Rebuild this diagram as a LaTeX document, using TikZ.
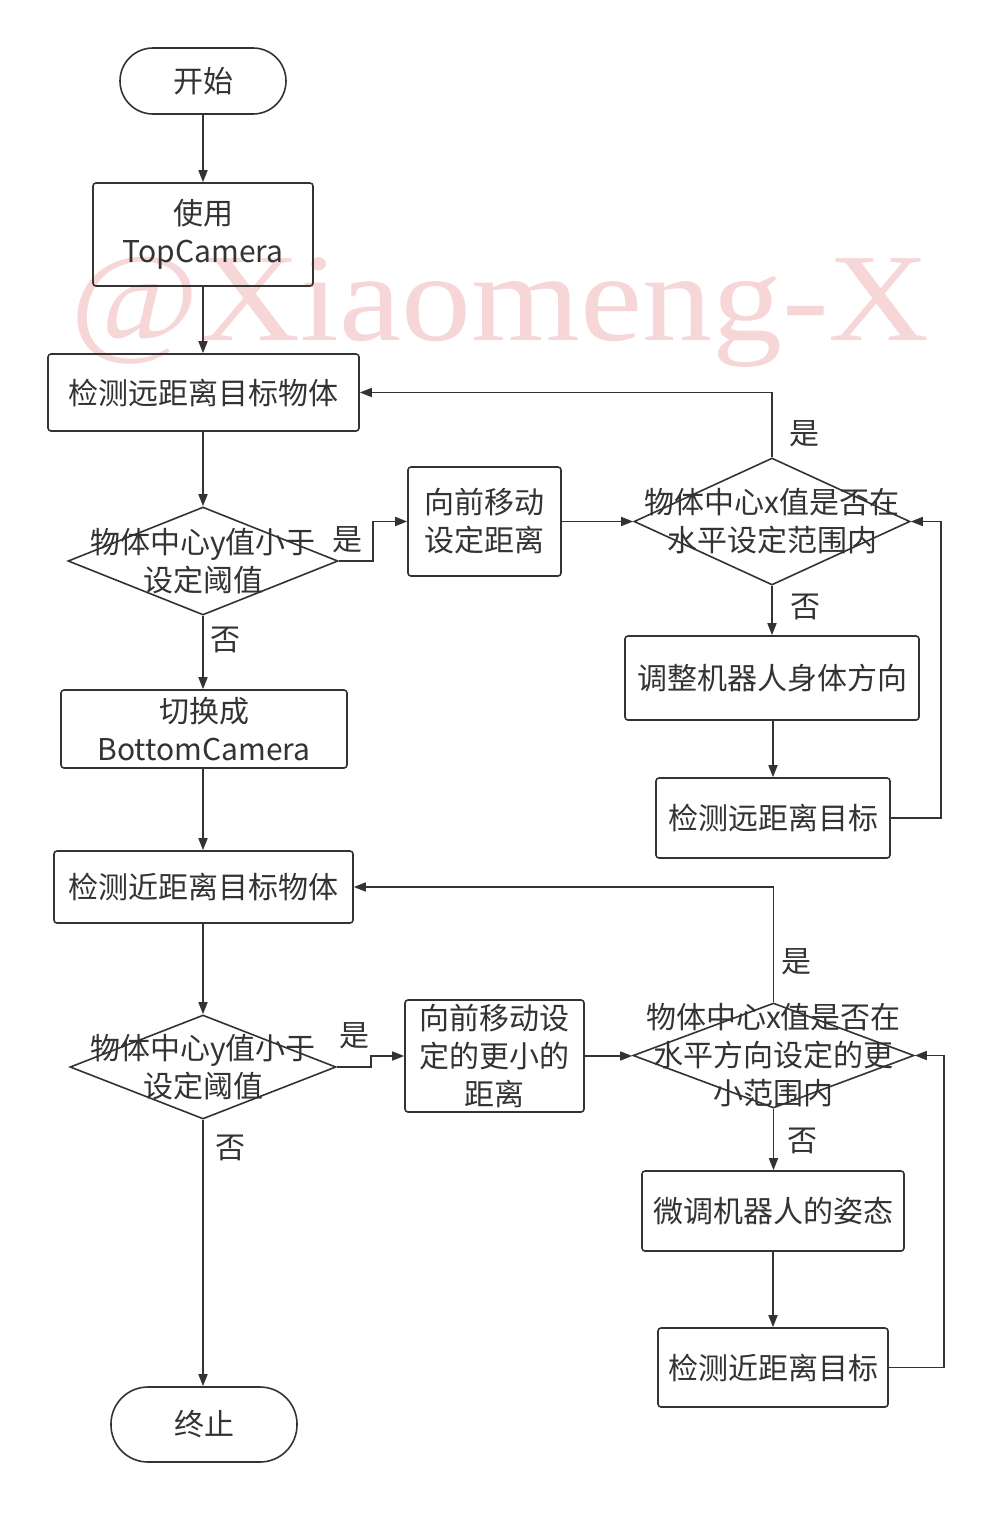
\documentclass[tikz,border=0pt]{standalone}
\usepackage{fontspec}
\setmainfont{Noto Sans CJK SC}
\newfontfamily\markfont{Liberation Serif}
\usetikzlibrary{shapes.geometric,arrows.meta}
\definecolor{ink}{HTML}{333333}
\definecolor{wmark}{HTML}{F6D6D6}

\tikzset{
  base/.style={draw=ink, line width=1.6pt, text=ink, align=center, inner sep=0pt},
  proc/.style={base, rounded corners=3pt},
  term/.style={base, rounded corners=33pt},
  cond/.style={base, diamond},
  lbl/.style={text=ink, inner sep=0pt},
  arr/.style={draw=ink, line width=1.6pt, -{Triangle[length=12pt,width=9pt]}},
  wire/.style={draw=ink, line width=1.6pt},
}

\begin{document}
\begin{tikzpicture}[x=1pt, y=-1pt, font=\fontsize{30}{38}\selectfont]
\fill[white] (0,0) rectangle (1006,1524);
\useasboundingbox (0,0) rectangle (1006,1524);

% author mark
\node[anchor=base, text=wmark, inner sep=0pt, font=\markfont\fontsize{125}{125}\selectfont]
  (wm) at (500,340) {\scalebox{1.12}[1]{@Xiaomeng-X}};

% ---- upper stage: far-range search ----
\node[term, minimum width=166, minimum height=66] (start) at (203,81) {开始};
\node[proc, minimum width=220, minimum height=103] (cam) at (203,234.5) {使用\\TopCamera};
\node[proc, minimum width=311, minimum height=77] (far) at (203.5,392.5) {检测远距离目标物体};
\node[cond, minimum width=270, minimum height=108] (d1) at (203,561) {};
\node[lbl, align=center] at (d1) {物体中心y值小于\\设定阈值};
\node[proc, minimum width=153, minimum height=109] (fwd1) at (484.5,521.5) {向前移动\\设定距离};
\node[cond, minimum width=276, minimum height=127] (d2) at (772,521.5) {};
\node[lbl, align=center] at (d2) {物体中心x值是否在\\水平设定范围内};
\node[proc, minimum width=294, minimum height=84] (adj) at (772,678) {调整机器人身体方向};
\node[proc, minimum width=234, minimum height=80] (chk1) at (773,818) {检测远距离目标};

% ---- lower stage: near-range search ----
\node[proc, minimum width=286, minimum height=78] (sw) at (204,729) {切换成\\BottomCamera};
\node[proc, minimum width=299, minimum height=72] (near) at (203.5,887) {检测近距离目标物体};
\node[cond, minimum width=266, minimum height=104] (d3) at (203,1067) {};
\node[lbl, align=center] at (d3) {物体中心y值小于\\设定阈值};
\node[proc, minimum width=179, minimum height=112] (fwd2) at (494.5,1056) {向前移动设\\定的更小的\\距离};
\node[cond, minimum width=281, minimum height=105] (d4) at (773.5,1055.5) {};
\node[lbl, align=center] at (d4) {物体中心x值是否在\\水平方向设定的更\\小范围内};
\node[proc, minimum width=262, minimum height=80] (fine) at (773,1211) {微调机器人的姿态};
\node[proc, minimum width=230, minimum height=79] (chk2) at (773,1367.5) {检测近距离目标};
\node[term, rounded corners=37pt, minimum width=186, minimum height=75] (stop) at (204,1424.5) {终止};

% branch labels
\node[lbl] (y1) at (347,540) {是};
\node[lbl] (n1) at (225,640) {否};
\node[lbl] (y2) at (804,434) {是};
\node[lbl] (n2) at (805,607) {否};
\node[lbl] (y3) at (354,1036) {是};
\node[lbl] (n3) at (230,1148) {否};
\node[lbl] (y4) at (796,962) {是};
\node[lbl] (n4) at (802,1141) {否};

% connectors, upper stage
\draw[arr] (start.south) -- (cam.north);
\draw[arr] (cam.south) -- (cam.south |- far.north);
\draw[arr] (far.south -| d1.north) -- (d1.north);
\draw[arr] (d1.east) -- ++(34,0) |- (fwd1.west);
\draw[arr] (fwd1.east) -- (fwd1.east -| d2.west);
\draw[arr] (d2.north) |- (far.east);
\draw[arr] (d2.south) -- (d2.south |- adj.north);
\draw[arr] (adj.south -| chk1.north) -- (chk1.north);
\draw[arr] (chk1.east) -- ++(50,0) |- (d2.east);

% connectors, lower stage
\draw[arr] (d1.south) -- (d1.south |- sw.north);
\draw[arr] (sw.south -| d1.south) -- (d1.south |- near.north);
\draw[arr] (near.south -| d3.north) -- (d3.north);
\draw[arr] (d3.east) -- ++(34,0) |- (fwd2.west);
\draw[arr] (fwd2.east) -- (fwd2.east -| d4.west);
\draw[arr] (d4.north) |- (near.east);
\draw[arr] (d4.south) -- (d4.south |- fine.north);
\draw[arr] (fine.south) -- (fine.south |- chk2.north);
\draw[arr] (chk2.east) -- ++(55,0) |- (d4.east);
\draw[arr] (d3.south) -- (d3.south |- stop.north);
\end{tikzpicture}
\end{document}
